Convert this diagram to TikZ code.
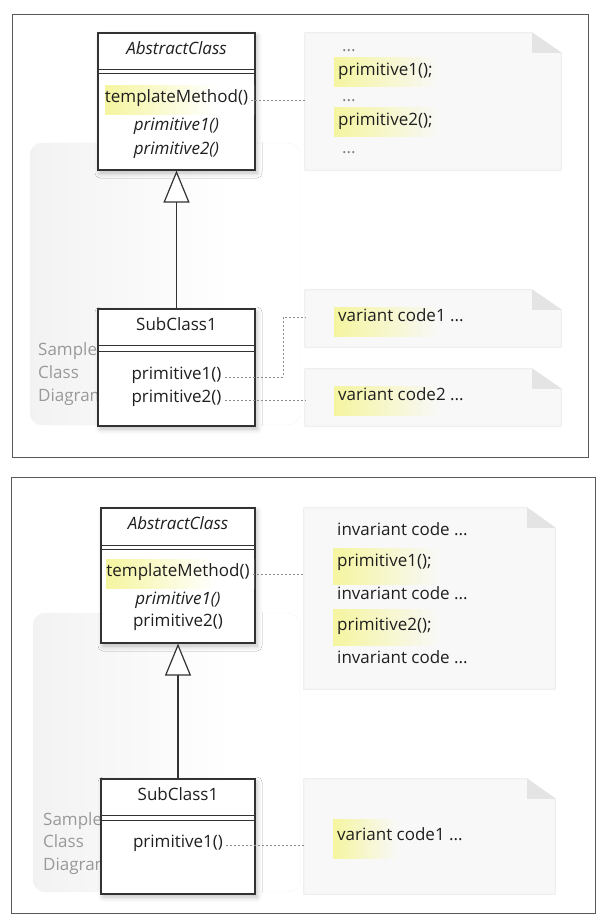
\documentclass[tikz,border=0pt]{standalone}
\usepackage{fontspec}
\setmainfont{Open Sans}
\usetikzlibrary{arrows.meta,shadows.blur}

\definecolor{hl}{RGB}{245,245,160}
\definecolor{notefill}{RGB}{248,248,248}
\definecolor{noteline}{RGB}{232,232,232}
\definecolor{earfill}{RGB}{228,228,228}
\definecolor{boxline}{RGB}{50,50,50}

% yellow marker that fades out to the right
\pgfdeclarehorizontalshading{hlnote}{100bp}{color(0bp)=(hl); color(25bp)=(hl); color(58bp)=(notefill); color(100bp)=(notefill)}
\pgfdeclarehorizontalshading{hlclass}{100bp}{color(0bp)=(hl); color(25bp)=(hl); color(62bp)=(white); color(100bp)=(white)}
\pgfdeclarehorizontalshading{bgfade}{100bp}{color(0bp)=(black!5); color(25bp)=(black!5); color(62bp)=(white); color(100bp)=(white)}

\tikzset{
  frame/.style={draw=black!65, line width=1pt},
  bgarea/.style={rounded corners=12pt, draw=black!4, shading=bgfade},
  classbox/.style={draw=boxline, fill=white, line width=1.2pt, inner sep=0pt,
    blur shadow={shadow xshift=2pt, shadow yshift=-3pt, shadow blur radius=5pt, shadow opacity=25}},
  classline/.style={draw=boxline, line width=0.8pt},
  notearea/.style={inner sep=0pt},
  notebox/.style={draw=noteline, fill=notefill, line width=0.8pt},
  dogear/.style={fill=earfill},
  txt/.style={font=\fontsize{17}{20}\selectfont, text=black!88, inner sep=3pt, anchor=mid},
  lefttxt/.style={txt, anchor=mid west, inner sep=0pt},
  sampletxt/.style={font=\fontsize{17}{20}\selectfont, text=black!40, anchor=mid west, inner sep=0pt},
  dotline/.style={draw=black!45, line width=0.8pt, dash pattern=on 2pt off 2pt},
  inherit/.style={draw=boxline, line width=1.2pt, -{Triangle[open, length=32pt, width=26pt, fill=white]}},
}

\begin{document}
\begin{tikzpicture}[x=1pt, y=-1pt]
  \useasboundingbox (0,0) rectangle (599,920);

  % upper panel
  \draw[frame] (12,15) rectangle (588,457);
  \shade[bgarea] (30,143) rectangle (300,425);
  \node[sampletxt] (smp1a) at (38,353) {Sample};
  \node[sampletxt] (smp1b) at (38,376) {Class};
  \node[sampletxt] (smp1c) at (38,399) {Diagram};

  \node[notearea, minimum width=256pt, minimum height=137pt] (note1) at (433,101.5) {};
  \draw[notebox] (note1.south west) -- (note1.north west) -- ([xshift=-29pt]note1.north east) -- ([yshift=-20pt]note1.north east) -- (note1.south east) -- cycle;
  \fill[dogear] ([xshift=-29pt]note1.north east) -- ([xshift=-29pt,yshift=-20pt]note1.north east) -- ([yshift=-20pt]note1.north east) -- cycle;
  \shade[shading=hlnote] (334,58) rectangle (493,87);
  \shade[shading=hlnote] (334,108) rectangle (493,137);
  \node[lefttxt, text=gray] (n1a) at (342,49) {...};
  \node[lefttxt] (n1b) at (338,73) {primitive1();};
  \node[lefttxt, text=gray] (n1c) at (342,99) {...};
  \node[lefttxt] (n1d) at (338,123) {primitive2();};
  \node[lefttxt, text=gray] (n1e) at (342,151) {...};

  \node[notearea, minimum width=256pt, minimum height=57pt] (note2) at (433,318.5) {};
  \draw[notebox] (note2.south west) -- (note2.north west) -- ([xshift=-29pt]note2.north east) -- ([yshift=-20pt]note2.north east) -- (note2.south east) -- cycle;
  \fill[dogear] ([xshift=-29pt]note2.north east) -- ([xshift=-29pt,yshift=-20pt]note2.north east) -- ([yshift=-20pt]note2.north east) -- cycle;
  \shade[shading=hlnote] (334,307) rectangle (493,336);
  \node[lefttxt] (n2a) at (338,319) {variant code1 ...};

  \node[notearea, minimum width=256pt, minimum height=57pt] (note3) at (433,397.5) {};
  \draw[notebox] (note3.south west) -- (note3.north west) -- ([xshift=-29pt]note3.north east) -- ([yshift=-20pt]note3.north east) -- (note3.south east) -- cycle;
  \fill[dogear] ([xshift=-29pt]note3.north east) -- ([xshift=-29pt,yshift=-20pt]note3.north east) -- ([yshift=-20pt]note3.north east) -- cycle;
  \shade[shading=hlnote] (334,386) rectangle (493,415);
  \node[lefttxt] (n3a) at (338,398) {variant code2 ...};

  \node[classbox, minimum width=157pt, minimum height=137pt] (abs1) at (176.5,101.5) {};
  \shade[shading=hlclass] (105,86) rectangle (254,115);
  \draw[classline] (abs1.west |- 0,69) -- (abs1.east |- 0,69);
  \draw[classline] (abs1.west |- 0,73) -- (abs1.east |- 0,73);
  \node[txt] (abs1name) at (176.5,52) {\itshape AbstractClass};
  \node[txt] (abs1tm) at (176.5,100) {templateMethod()};
  \node[txt] (abs1p1) at (176.5,128) {\itshape primitive1()};
  \node[txt] (abs1p2) at (176.5,152) {\itshape primitive2()};

  \node[classbox, minimum width=157pt, minimum height=117pt] (sub1) at (176.5,367.5) {};
  \draw[classline] (sub1.west |- 0,345) -- (sub1.east |- 0,345);
  \draw[classline] (sub1.west |- 0,351) -- (sub1.east |- 0,351);
  \node[txt] (sub1name) at (176.5,328) {SubClass1};
  \node[txt] (sub1p1) at (176.5,377) {primitive1()};
  \node[txt] (sub1p2) at (176.5,400) {primitive2()};

  \draw[inherit] (sub1.north) -- (abs1.south);
  \coordinate (bend1) at (283,317);
  \draw[dotline] (abs1tm.mid east) -- (abs1tm.mid east -| note1.west);
  \draw[dotline] (sub1p1.mid east) -| (bend1) -- (bend1 -| note2.west);
  \draw[dotline] (sub1p2.mid east) -- (sub1p2.mid east -| note3.west);

  % lower panel
  \draw[frame] (11,477) rectangle (595,913);
  \shade[bgarea] (33,613) rectangle (300,892);
  \node[sampletxt] (smp2a) at (43,823) {Sample};
  \node[sampletxt] (smp2b) at (43,845) {Class};
  \node[sampletxt] (smp2c) at (43,868) {Diagram};

  \node[notearea, minimum width=251pt, minimum height=181pt] (noteA) at (429.5,598.5) {};
  \draw[notebox] (noteA.south west) -- (noteA.north west) -- ([xshift=-28pt]noteA.north east) -- ([yshift=-20pt]noteA.north east) -- (noteA.south east) -- cycle;
  \fill[dogear] ([xshift=-28pt]noteA.north east) -- ([xshift=-28pt,yshift=-20pt]noteA.north east) -- ([yshift=-20pt]noteA.north east) -- cycle;
  \shade[shading=hlnote] (333,548) rectangle (493,584);
  \shade[shading=hlnote] (333,609) rectangle (493,645);
  \node[lefttxt] (nAa) at (337,533) {invariant code ...};
  \node[lefttxt] (nAb) at (337,564) {primitive1();};
  \node[lefttxt] (nAc) at (337,597) {invariant code ...};
  \node[lefttxt] (nAd) at (337,628) {primitive2();};
  \node[lefttxt] (nAe) at (337,661) {invariant code ...};

  \node[notearea, minimum width=251pt, minimum height=115pt] (noteB) at (429.5,836.5) {};
  \draw[notebox] (noteB.south west) -- (noteB.north west) -- ([xshift=-28pt]noteB.north east) -- ([yshift=-20pt]noteB.north east) -- (noteB.south east) -- cycle;
  \fill[dogear] ([xshift=-28pt]noteB.north east) -- ([xshift=-28pt,yshift=-20pt]noteB.north east) -- ([yshift=-20pt]noteB.north east) -- cycle;
  \shade[shading=hlnote] (333,819) rectangle (430,858);
  \node[lefttxt] (nBa) at (337,838) {variant code1 ...};

  \node[classbox, minimum width=154pt, minimum height=135pt] (abs2) at (178,575.5) {};
  \shade[shading=hlclass] (106,559) rectangle (254,588);
  \draw[classline] (abs2.west |- 0,545) -- (abs2.east |- 0,545);
  \draw[classline] (abs2.west |- 0,549) -- (abs2.east |- 0,549);
  \node[txt] (abs2name) at (178,527) {\itshape AbstractClass};
  \node[txt] (abs2tm) at (178,574) {templateMethod()};
  \node[txt] (abs2p1) at (178,602) {\itshape primitive1()};
  \node[txt] (abs2p2) at (178,624) {primitive2()};

  \node[classbox, minimum width=154pt, minimum height=115pt] (sub2) at (178,836.5) {};
  \draw[classline] (sub2.west |- 0,815) -- (sub2.east |- 0,815);
  \draw[classline] (sub2.west |- 0,820) -- (sub2.east |- 0,820);
  \node[txt] (sub2name) at (178,798) {SubClass1};
  \node[txt] (sub2p1) at (178,845) {primitive1()};

  \draw[inherit] (sub2.north) -- (abs2.south);
  \draw[dotline] (abs2tm.mid east) -- (abs2tm.mid east -| noteA.west);
  \draw[dotline] (sub2p1.mid east) -- (sub2p1.mid east -| noteB.west);
\end{tikzpicture}
\end{document}
